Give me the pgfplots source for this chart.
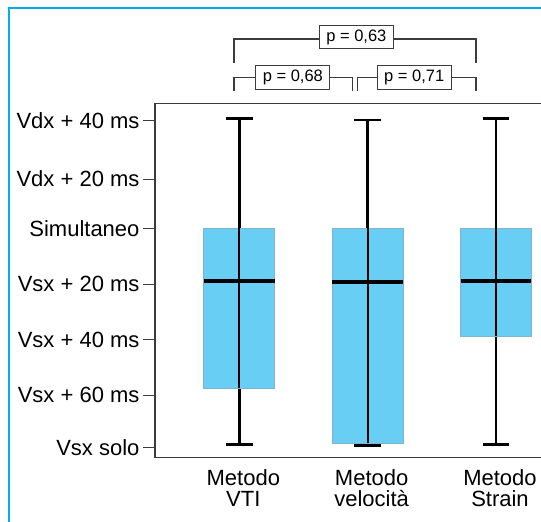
\documentclass[border=0pt]{standalone}
\usepackage{pgfplots}
\pgfplotsset{compat=1.18}
\usepgfplotslibrary{statistics}
\usepackage{fontspec}
\setmainfont{Liberation Sans}
\definecolor{framecol}{RGB}{0,174,239}
\definecolor{boxfill}{RGB}{104,206,244}
\definecolor{boxedge}{RGB}{125,180,210}
\definecolor{axcol}{RGB}{60,60,60}
\begin{document}
\begin{tikzpicture}[x=1pt,y=1pt]
\path[use as bounding box] (0,0) rectangle (541,522);
\clip (0,0) rectangle (541,522);
\draw[framecol, line width=1.3pt] (9,-2) -- (9,514) -- (545,514);
\begin{axis}[
  at={(155pt,64.3pt)}, anchor=south west,
  scale only axis, width=418pt, height=354.4pt,
  xmin=-0.657, xmax=2.6, ymin=-0.178, ymax=6.319,
  clip=false,
  axis line style={axcol, line width=1.3pt},
  xtick={0,1,2},
  xticklabels={{Metodo\\VTI},{Metodo\\velocità},{Metodo\\Strain}},
  x tick style={draw=none},
  xticklabel style={align=center, font=\fontsize{22}{21}\selectfont, xshift=4pt, yshift=4pt},
  ytick={0,0.97,1.99,3.0,4.03,4.93,6.0},
  yticklabels={Vsx solo, Vsx + 60 ms, Vsx + 40 ms, Vsx + 20 ms, Simultaneo, Vdx + 20 ms, Vdx + 40 ms},
  yticklabel style={font=\fontsize{22}{25}\selectfont},
  tick align=outside, major tick length=12pt,
  y tick style={axcol, line width=1pt},
  ytick pos=left, xtick pos=bottom,
  boxplot/draw direction=y,
  boxplot/every box/.style={fill=boxfill, draw=boxedge, line width=0.8pt},
  boxplot/every median/.style={black, line width=4pt},
  boxplot/every whisker/.style={black, line width=2.6pt},
]
% Metodo VTI
\addplot[boxplot prepared={lower whisker=0.068, lower quartile=1.094, median=3.061,
  upper quartile=4.03, upper whisker=6.044, draw position=0, box extend=0.553, whisker extend=0.21}]
  coordinates {};
\addplot[black, line width=2.2pt] coordinates {(0,1.094) (0,4.03)};
% Metodo velocita
\addplot[boxplot prepared={lower whisker=0.049, lower quartile=0.086, median=3.043,
  upper quartile=4.03, upper whisker=6.013, draw position=1, box extend=0.553, whisker extend=0.21}]
  coordinates {};
\addplot[black, line width=2.2pt] coordinates {(1,0.086) (1,4.03)};
% Metodo Strain
\addplot[boxplot prepared={lower whisker=0.068, lower quartile=2.053, median=3.061,
  upper quartile=4.03, upper whisker=6.044, draw position=2, box extend=0.553, whisker extend=0.21}]
  coordinates {};
\addplot[black, line width=2.2pt] coordinates {(2,2.053) (2,4.03)};
% p-value brackets
\draw[axcol, line width=1.2pt] (axis cs:-0.041,7.052) -- (axis cs:-0.041,7.498) -- (axis cs:1.844,7.498) -- (axis cs:1.844,7.052);
\draw[axcol, line width=1.2pt] (axis cs:-0.041,6.55) -- (axis cs:-0.041,6.796) -- (axis cs:0.884,6.796) -- (axis cs:0.884,6.55);
\draw[axcol, line width=1.2pt] (axis cs:0.919,6.55) -- (axis cs:0.919,6.796) -- (axis cs:1.844,6.796) -- (axis cs:1.844,6.55);
\node[draw=axcol, fill=white, line width=1pt, font=\fontsize{16.5}{16.5}\selectfont, inner xsep=7pt, minimum height=23.5pt] at (axis cs:0.912,7.535) {p = 0,63};
\node[draw=axcol, fill=white, line width=1pt, font=\fontsize{16.5}{16.5}\selectfont, inner xsep=7pt, minimum height=23.5pt] at (axis cs:0.417,6.792) {p = 0,68};
\node[draw=axcol, fill=white, line width=1pt, font=\fontsize{16.5}{16.5}\selectfont, inner xsep=7pt, minimum height=23.5pt] at (axis cs:1.363,6.792) {p = 0,71};
\end{axis}
\end{tikzpicture}
\end{document}
